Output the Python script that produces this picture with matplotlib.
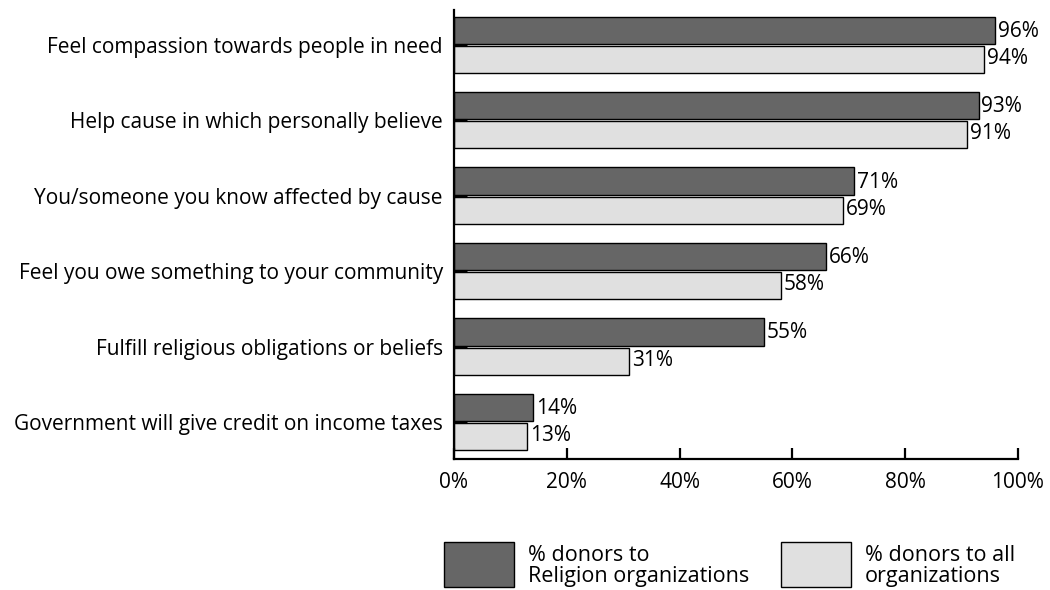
import matplotlib.pyplot as plt
from matplotlib.patches import Rectangle
import numpy as np

plt.rcParams['font.family'] = ['Open Sans', 'DejaVu Sans']

categories = [
    "Feel compassion towards people in need",
    "Help cause in which personally believe",
    "You/someone you know affected by cause",
    "Feel you owe something to your community",
    "Fulfill religious obligations or beliefs",
    "Government will give credit on income taxes",
]
religion_pct = [96, 93, 71, 66, 55, 14]
all_pct = [94, 91, 69, 58, 31, 13]
x_ticks = [0, 20, 40, 60, 80, 100]
legend_labels = ["% donors to\nReligion organizations", "% donors to all\norganizations"]

DARK = "#666666"
LIGHT = "#e0e0e0"
FS = 15

fig = plt.figure(figsize=(10.5, 5.9), dpi=100)
ax = fig.add_axes([454 / 1050, 1 - 459 / 590, (1018 - 454) / 1050, 449 / 590])

n = len(categories)
pos = np.arange(n)[::-1]
h = 0.36

ax.barh(pos + h / 2 + 0.013, religion_pct, height=h, color=DARK, edgecolor="black", linewidth=1)
ax.barh(pos - h / 2 - 0.013, all_pct, height=h, color=LIGHT, edgecolor="black", linewidth=1)

for p, v in zip(pos, religion_pct):
    ax.text(v + 0.5, p + h / 2, "{}%".format(v), va="center", ha="left", fontsize=FS)
for p, v in zip(pos, all_pct):
    ax.text(v + 0.5, p - h / 2, "{}%".format(v), va="center", ha="left", fontsize=FS)

ax.set_xlim(0, 100)
ax.set_ylim(-0.49, n - 0.54)
ax.set_xticks(x_ticks)
ax.set_xticklabels(["{}%".format(t) for t in x_ticks], fontsize=FS)
ax.set_yticks(pos)
ax.set_yticklabels(categories, fontsize=FS)

for s in ["top", "right"]:
    ax.spines[s].set_visible(False)
for s in ["left", "bottom"]:
    ax.spines[s].set_linewidth(1.6)
ax.tick_params(axis="x", direction="in", length=8, width=1.6, pad=9)
ax.tick_params(axis="y", direction="in", length=9, width=2.2, pad=8)

# legend drawn by hand below the axes
for i, (col, lab) in enumerate(zip([DARK, LIGHT], legend_labels)):
    x0 = [444, 781][i]
    fig.add_artist(Rectangle((x0 / 1050, 1 - 587 / 590), 70 / 1050, 45 / 590,
                             transform=fig.transFigure, facecolor=col,
                             edgecolor="black", linewidth=1))
    fig.text((x0 + 84) / 1050, 1 - 566 / 590, lab, va="center", ha="left",
             fontsize=15.5, linespacing=0.95)

fig.savefig("out.png")
